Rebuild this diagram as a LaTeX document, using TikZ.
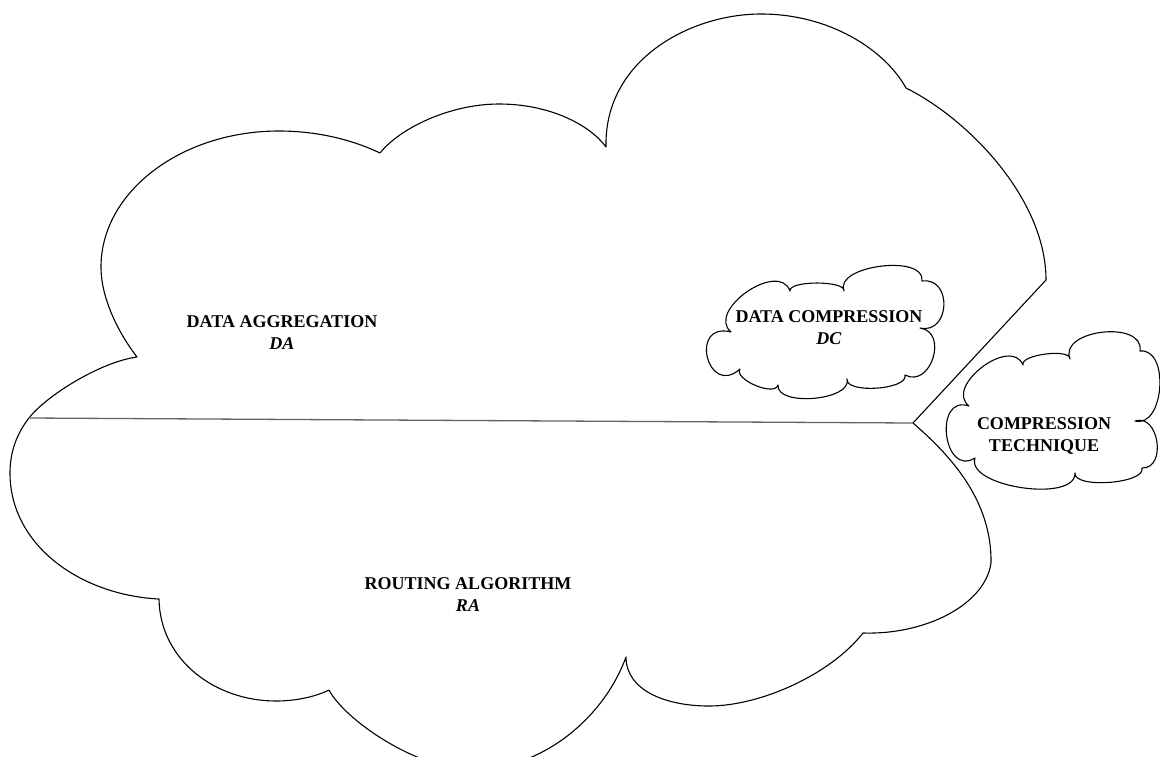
\documentclass[tikz,border=0pt]{standalone}
\usepackage{fontspec}
\setmainfont{Liberation Serif}
\usetikzlibrary{calc}
\tikzset{
  outline/.style={draw=black, line width=1.1pt, line join=round, fill=white},
  divline/.style={draw={rgb,255:red,100;green,100;blue,100}, line width=1.3pt},
  pf/.style 2 args={to path={.. controls ($(\tikztostart)!#1!#2:(\tikztotarget)$) and ($(\tikztotarget)!#1!-#2:(\tikztostart)$) .. (\tikztotarget)}},
  lbl/.style={inner sep=0pt, anchor=north, align=center, font=\bfseries\fontsize{18}{22}\selectfont},
}
\begin{document}
\begin{tikzpicture}[x=1pt,y=-1pt]
\useasboundingbox[fill=white] (0,0) rectangle (1160,756);
% big cloud
\coordinate (P1) at (29,418);
\coordinate (N) at (913,423);
\path[outline] (P1)
  .. controls (46,396) and (100,362) .. (137,357)
  .. controls (120,335) and (101,300) .. (101,267)
  .. controls (101,192) and (181,131) .. (279,131)
  .. controls (320,131) and (355,141) .. (380,153)
  .. controls (400,128) and (450,104) .. (499,104)
  .. controls (550,104) and (590,125) .. (606,147)
  .. controls (604,60) and (690,14) .. (761,14)
  .. controls (830,14) and (885,50) .. (906,88)
  .. controls (970,120) and (1046,200) .. (1046,280)
  -- (N)
  .. controls (950,455) and (992,500) .. (991,563)
  .. controls (985,605) and (925,635) .. (863,633)
  .. controls (830,675) and (760,706) .. (709,706)
  .. controls (665,706) and (626,690) .. (626,657)
  .. controls (605,715) and (545,770) .. (470,770)
  .. controls (415,768) and (345,720) .. (329,690)
  .. controls (315,697) and (295,701) .. (276,701)
  .. controls (215,701) and (160,660) .. (159,599)
  .. controls (80,595) and (10,545) .. (10,473)
  .. controls (10,450) and (18,432) .. cycle;
\draw[divline] (P1) -- (N);
% data compression cloud
\coordinate (d1) at (731,332);
\coordinate (d2) at (790,291);
\coordinate (d3) at (844,291);
\coordinate (d4) at (922,281);
\coordinate (d5) at (920,328);
\coordinate (d6) at (905,375);
\coordinate (d7) at (847,379);
\coordinate (d8) at (778,385);
\coordinate (d9) at (740,369);
\path[outline] (d1) to[pf={0.46}{105}] (d2) to[pf={0.2}{100}] (d3)
  to[pf={0.35}{105}] (d4) to[pf={0.66}{100}] (d5) to[pf={0.59}{100}] (d6)
  to[pf={0.26}{100}] (d7) to[pf={0.32}{100}] (d8) to[pf={0.3}{100}] (d9)
  to[pf={1.15}{118}] (d1) -- cycle;
% compression technique cloud
\coordinate (e1) at (969,406);
\coordinate (e2) at (1023,365);
\coordinate (e3) at (1070,359);
\coordinate (e4) at (1140,351);
\coordinate (e5) at (1135,421);
\coordinate (e6) at (1142,468);
\coordinate (e7) at (1075,473);
\coordinate (e8) at (975,458);
\path[outline] (e1) to[pf={0.47}{105}] (e2) to[pf={0.23}{100}] (e3)
  to[pf={0.45}{105}] (e4) to[pf={0.43}{100}] (e5) to[pf={0.53}{100}] (e6)
  to[pf={0.24}{100}] (e7) to[pf={0.3}{100}] (e8) to[pf={0.72}{115}] (e1) -- cycle;
% labels
\node[lbl] (da) at (282,315) {DATA AGGREGATION\\\textit{DA}};
\node[lbl] (ra) at (468,577) {ROUTING ALGORITHM\\\textit{RA}};
\node[lbl] (dc) at (829,310) {DATA COMPRESSION\\\textit{DC}};
\node[lbl] (ct) at (1044,417) {COMPRESSION\\TECHNIQUE};
\end{tikzpicture}
\end{document}
